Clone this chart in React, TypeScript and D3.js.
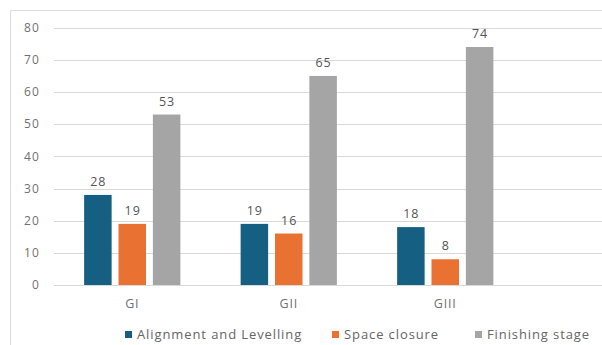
import React from "react";
import * as d3 from "d3";

const categories = ["GI", "GII", "GIII"];
const seriesNames = ["Alignment and Levelling", "Space closure", "Finishing stage"];
const alignmentValues = [28, 19, 18];
const spaceClosureValues = [19, 16, 8];
const finishingValues = [53, 65, 74];
const yTicks = [0, 10, 20, 30, 40, 50, 60, 70, 80];
const seriesColors = ["#156082", "#E97132", "#A5A5A5"];

const W = 602;
const H = 345;
const FONT = "'Open Sans', 'DejaVu Sans', sans-serif";

export default function App() {
  const seriesValues = [alignmentValues, spaceClosureValues, finishingValues];
  const step = 156.5;
  const x0 = d3
    .scaleBand<string>()
    .domain(categories)
    .range([54, 54 + step * categories.length])
    .paddingInner(0.385)
    .paddingOuter(0.1925);
  const x1 = d3
    .scaleBand<string>()
    .domain(seriesNames)
    .range([0, x0.bandwidth()])
    .paddingInner(0.2);
  const y = d3.scaleLinear().domain([0, 80]).range([285, 27.7]);

  const legendX = [125, 332, 475];

  return (
    <svg
      width={W}
      height={H}
      style={{ position: "absolute", left: 0, top: 0, background: "#ffffff" }}
      fontFamily={FONT}
    >
      <rect x={0} y={0} width={W} height={H} fill="#ffffff" />
      {/* outer frame */}
      <line x1={10.5} y1={10.5} x2={W} y2={10.5} stroke="#dcdcdc" strokeWidth={1} />
      <line x1={10.5} y1={10.5} x2={10.5} y2={H} stroke="#dcdcdc" strokeWidth={1} />

      {/* gridlines and y tick labels */}
      {yTicks.map((t) => (
        <g key={t}>
          <line
            x1={54}
            x2={W}
            y1={Math.round(y(t)) + 0.5}
            y2={Math.round(y(t)) + 0.5}
            stroke="#d9d9d9"
            strokeWidth={1}
          />
          <text
            x={40}
            y={y(t)}
            dy="0.35em"
            textAnchor="end"
            fontSize={12}
            letterSpacing={1.2}
            fill="#707070"
          >
            {t}
          </text>
        </g>
      ))}

      {/* bars with value labels */}
      {categories.map((c, ci) => (
        <g key={c} transform={`translate(${x0(c)},0)`}>
          {seriesNames.map((s, si) => {
            const v = seriesValues[si][ci];
            const bx = x1(s)!;
            return (
              <g key={s}>
                <rect
                  x={bx}
                  y={y(v)}
                  width={x1.bandwidth()}
                  height={y(0) - y(v)}
                  fill={seriesColors[si]}
                />
                <text
                  x={bx + x1.bandwidth() / 2 + 0.5}
                  y={y(v) - 9}
                  textAnchor="middle"
                  fontSize={12.5}
                  letterSpacing={1}
                  fill="#555555"
                >
                  {v}
                </text>
              </g>
            );
          })}
          <text
            x={x0.bandwidth() / 2}
            y={308}
            textAnchor="middle"
            fontSize={12.5}
            letterSpacing={0.8}
            fill="#707070"
          >
            {c}
          </text>
        </g>
      ))}

      {/* legend */}
      {seriesNames.map((s, i) => (
        <g key={s} transform={`translate(${legendX[i]},0)`}>
          <rect x={0} y={331} width={7} height={7} fill={seriesColors[i]} />
          <text x={12} y={339} fontSize={13} letterSpacing={0.9} fill="#666666">
            {s}
          </text>
        </g>
      ))}
    </svg>
  );
}
